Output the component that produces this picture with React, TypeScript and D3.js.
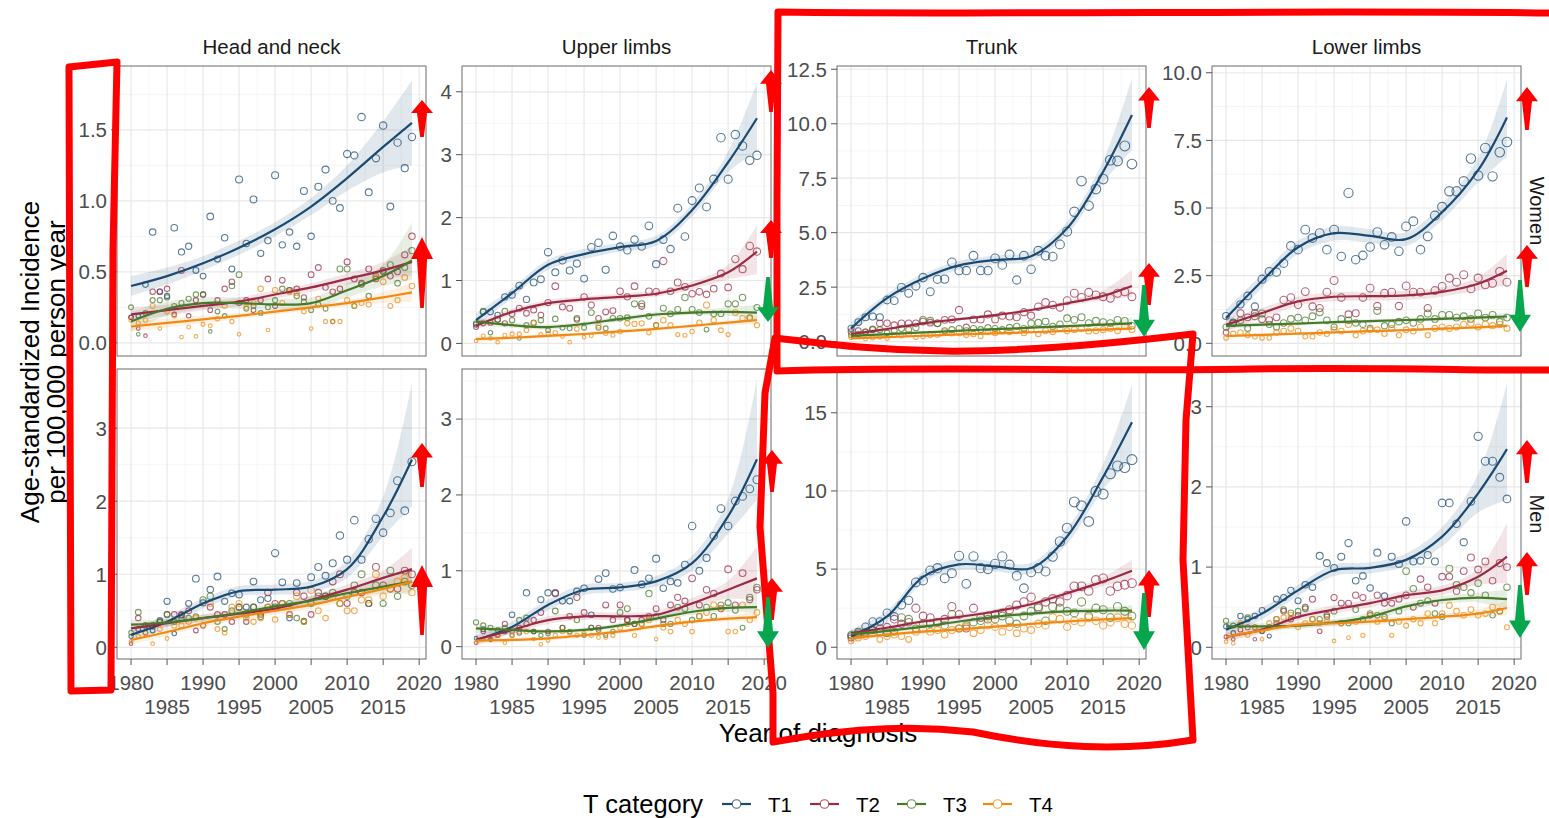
import React from 'react';
import * as d3 from 'd3';

// year axis and smoother knots
const years = [1980, 1981, 1982, 1983, 1984, 1985, 1986, 1987, 1988, 1989, 1990, 1991, 1992, 1993, 1994, 1995, 1996, 1997, 1998, 1999,
  2000, 2001, 2002, 2003, 2004, 2005, 2006, 2007, 2008, 2009, 2010, 2011, 2012, 2013, 2014, 2015, 2016, 2017, 2018, 2019];
const knotYears = [1980, 1985, 1990, 1995, 2000, 2005, 2010, 2015, 2019];

const categories = ['T1', 'T2', 'T3', 'T4'];
const catColors = ['#1a4a72', '#9b2b44', '#47792a', '#f08a14'];
const sites = ['Head and neck', 'Upper limbs', 'Trunk', 'Lower limbs'];
const sexes = ['Women', 'Men'];

const xMajor = [1980, 1985, 1990, 1995, 2000, 2005, 2010, 2015, 2020];
const xMinor = [1982.5, 1987.5, 1992.5, 1997.5, 2002.5, 2007.5, 2012.5, 2017.5];
const xLabels1 = [1980, 1990, 2000, 2010, 2020];
const xLabels2 = [1985, 1995, 2005, 2015];

// ---------- Women, head and neck ----------
const wHeadT1 = [0.18, 0.19, 0.41, 0.78, 0.36, 0.33, 0.81, 0.64, 0.68, 0.51, 0.47, 0.89, 0.59, 0.74, 0.52, 1.15, 0.70, 1.01, 0.63, 0.72,
  1.18, 0.69, 0.78, 0.68, 1.07, 0.75, 1.10, 1.22, 1.00, 0.95, 1.33, 1.32, 1.59, 1.06, 1.30, 1.53, 0.96, 1.41, 1.23, 1.45];
const wHeadT2 = [0.18, 0.10, 0.05, 0.36, 0.36, 0.38, 0.20, 0.51, 0.19, 0.30, 0.34, 0.23, 0.30, 0.38, 0.43, 0.28, 0.30, 0.23, 0.30, 0.45,
  0.26, 0.44, 0.37, 0.38, 0.32, 0.48, 0.53, 0.39, 0.36, 0.38, 0.57, 0.45, 0.42, 0.52, 0.45, 0.51, 0.47, 0.50, 0.62, 0.75];
const wHeadT3 = [0.25, 0.06, 0.21, 0.30, 0.30, 0.32, 0.26, 0.28, 0.31, 0.34, 0.34, 0.08, 0.22, 0.19, 0.40, 0.48, 0.24, 0.26, 0.21, 0.25,
  0.30, 0.38, 0.37, 0.33, 0.29, 0.23, 0.27, 0.24, 0.15, 0.52, 0.52, 0.26, 0.41, 0.33, 0.47, 0.50, 0.55, 0.42, 0.53, 0.65];
const wHeadT4 = [0.16, 0.14, 0.16, 0.26, 0.10, 0.22, 0.19, 0.04, 0.11, 0.045, 0.13, 0.12, 0.17, 0.26, 0.15, 0.06, 0.25, 0.28, 0.38, 0.09,
  0.37, 0.28, 0.36, 0.35, 0.22, 0.10, 0.31, 0.15, 0.15, 0.15, 0.30, 0.26, 0.28, 0.27, 0.46, 0.43, 0.26, 0.30, 0.46, 0.40];
const wHeadT1Fit = [0.40, 0.47, 0.56, 0.67, 0.80, 0.96, 1.16, 1.38, 1.55];
const wHeadT1Lo = [0.33, 0.41, 0.51, 0.62, 0.75, 0.90, 1.07, 1.20, 1.25];
const wHeadT1Hi = [0.47, 0.53, 0.61, 0.72, 0.85, 1.02, 1.25, 1.56, 1.85];
const wHeadT2Fit = [0.20, 0.23, 0.26, 0.29, 0.34, 0.39, 0.45, 0.51, 0.57];
const wHeadT2Lo = [0.15, 0.19, 0.23, 0.26, 0.31, 0.36, 0.41, 0.45, 0.47];
const wHeadT2Hi = [0.25, 0.27, 0.29, 0.32, 0.37, 0.42, 0.49, 0.57, 0.68];
const wHeadT3Fit = [0.15, 0.24, 0.28, 0.28, 0.27, 0.28, 0.37, 0.47, 0.58];
const wHeadT3Lo = [0.08, 0.19, 0.24, 0.24, 0.23, 0.24, 0.32, 0.40, 0.44];
const wHeadT3Hi = [0.22, 0.29, 0.32, 0.32, 0.31, 0.32, 0.42, 0.55, 0.85];
const wHeadT4Fit = [0.115, 0.14, 0.165, 0.19, 0.22, 0.25, 0.28, 0.32, 0.355];
const wHeadT4Lo = [0.08, 0.11, 0.14, 0.17, 0.20, 0.23, 0.26, 0.28, 0.29];
const wHeadT4Hi = [0.15, 0.17, 0.19, 0.21, 0.24, 0.27, 0.30, 0.36, 0.42];

// ---------- Women, upper limbs ----------
const wUpperT1 = [0.30, 0.50, 0.50, 0.45, 0.74, 0.77, 0.92, 0.70, 0.97, 1.02, 1.45, 1.13, 1.32, 1.16, 1.27, 1.03, 1.53, 1.60, 1.17, 1.71,
  1.54, 1.48, 1.65, 1.54, 1.87, 1.26, 1.65, 1.50, 2.15, 1.70, 2.27, 2.47, 2.17, 2.61, 3.27, 2.61, 3.32, 3.14, 2.91, 2.99];
const wUpperT2 = [0.26, 0.32, 0.33, 0.38, 0.32, 0.47, 0.56, 0.48, 0.53, 0.45, 0.65, 0.91, 0.58, 0.56, 0.38, 0.74, 0.61, 0.40, 0.50, 0.52,
  0.83, 0.74, 0.91, 0.59, 0.83, 0.82, 1.31, 0.83, 0.97, 0.90, 0.79, 0.82, 0.78, 0.87, 1.11, 0.89, 1.34, 1.18, 1.55, 1.46];
const wUpperT3 = [0.32, 0.51, 0.17, 0.38, 0.51, 0.37, 0.08, 0.29, 0.33, 0.37, 0.21, 0.39, 0.25, 0.24, 0.40, 0.25, 0.49, 0.25, 0.24, 0.40,
  0.40, 0.41, 0.63, 0.63, 0.43, 0.29, 0.56, 0.47, 0.54, 0.73, 0.54, 0.49, 0.22, 0.47, 0.47, 0.63, 0.63, 0.73, 0.41, 0.57];
const wUpperT4 = [0.04, 0.12, 0.08, 0.02, 0.13, 0.15, 0.15, 0.21, 0.32, 0.14, 0.16, 0.17, 0.11, 0.02, 0.23, 0.10, 0.12, 0.28, 0.16, 0.13,
  0.19, 0.32, 0.31, 0.32, 0.17, 0.29, 0.37, 0.29, 0.14, 0.13, 0.19, 0.33, 0.61, 0.37, 0.21, 0.14, 0.49, 0.40, 0.40, 0.29];
const wUpperT1Fit = [0.37, 0.80, 1.25, 1.42, 1.53, 1.63, 2.12, 2.88, 3.58];
const wUpperT1Lo = [0.27, 0.72, 1.17, 1.34, 1.46, 1.55, 2.02, 2.72, 3.05];
const wUpperT1Hi = [0.47, 0.88, 1.33, 1.50, 1.60, 1.71, 2.22, 3.05, 4.15];
const wUpperT2Fit = [0.28, 0.50, 0.64, 0.70, 0.74, 0.79, 0.92, 1.13, 1.46];
const wUpperT2Lo = [0.22, 0.45, 0.59, 0.65, 0.69, 0.74, 0.86, 1.02, 1.10];
const wUpperT2Hi = [0.34, 0.55, 0.69, 0.75, 0.79, 0.84, 0.98, 1.25, 1.88];
const wUpperT3Fit = [0.35, 0.29, 0.26, 0.31, 0.39, 0.46, 0.49, 0.50, 0.49];
const wUpperT3Lo = [0.29, 0.25, 0.22, 0.27, 0.35, 0.42, 0.45, 0.44, 0.38];
const wUpperT3Hi = [0.41, 0.33, 0.30, 0.35, 0.43, 0.50, 0.53, 0.57, 0.62];
const wUpperT4Fit = [0.07, 0.09, 0.12, 0.15, 0.19, 0.23, 0.28, 0.33, 0.37];
const wUpperT4Lo = [0.03, 0.06, 0.09, 0.12, 0.16, 0.20, 0.25, 0.29, 0.30];
const wUpperT4Hi = [0.11, 0.12, 0.15, 0.18, 0.22, 0.26, 0.31, 0.37, 0.44];

// ---------- Women, trunk ----------
const wTrunkT1 = [0.61, 0.90, 1.12, 1.15, 1.12, 1.91, 1.88, 2.48, 2.22, 2.55, 2.94, 2.29, 2.86, 2.87, 3.64, 3.26, 3.26, 3.94, 3.26, 3.26,
  3.82, 3.52, 4.00, 2.83, 3.94, 3.32, 4.17, 3.94, 3.90, 4.46, 5.05, 5.96, 7.37, 6.24, 7.00, 7.46, 8.33, 8.29, 8.98, 8.15];
const wTrunkT2 = [0.46, 0.50, 0.45, 0.55, 0.84, 0.84, 0.76, 0.84, 0.84, 0.84, 0.92, 0.87, 0.84, 1.00, 1.02, 1.45, 0.66, 1.02, 1.02, 1.25,
  1.02, 1.19, 1.15, 1.12, 1.35, 1.19, 1.60, 1.80, 1.68, 1.57, 1.88, 2.22, 2.03, 2.26, 2.14, 2.06, 1.99, 2.22, 2.29, 2.06];
const wTrunkT3 = [0.30, 0.35, 0.45, 0.58, 0.55, 0.40, 0.50, 0.60, 0.55, 0.65, 1.00, 0.96, 0.84, 0.50, 0.55, 0.60, 0.50, 0.60, 0.55, 0.64,
  0.60, 0.55, 0.65, 0.70, 0.60, 0.84, 0.87, 0.92, 0.70, 0.80, 1.07, 1.00, 1.12, 0.85, 0.96, 0.90, 0.85, 1.00, 0.95, 0.73];
const wTrunkT4 = [0.20, 0.25, 0.12, 0.18, 0.22, 0.15, 0.30, 0.28, 0.35, 0.20, 0.25, 0.30, 0.32, 0.45, 0.38, 0.40, 0.30, 0.35, 0.25, 0.45,
  0.40, 0.48, 0.45, 0.50, 0.40, 0.55, 0.35, 0.50, 0.45, 0.60, 0.50, 0.55, 0.60, 0.48, 0.50, 0.55, 0.60, 0.50, 0.70, 0.55];
const wTrunkT1Fit = [0.61, 2.00, 2.90, 3.50, 3.75, 3.92, 5.20, 7.80, 10.4];
const wTrunkT1Lo = [0.30, 1.80, 2.70, 3.30, 3.55, 3.70, 4.90, 7.30, 8.80];
const wTrunkT1Hi = [0.90, 2.20, 3.10, 3.70, 3.95, 4.15, 5.50, 8.30, 12.1];
const wTrunkT2Fit = [0.35, 0.58, 0.84, 1.03, 1.22, 1.45, 1.76, 2.10, 2.55];
const wTrunkT2Lo = [0.25, 0.50, 0.76, 0.96, 1.15, 1.37, 1.65, 1.90, 2.05];
const wTrunkT2Hi = [0.45, 0.66, 0.92, 1.10, 1.29, 1.53, 1.88, 2.35, 3.30];
const wTrunkT3Fit = [0.26, 0.34, 0.42, 0.50, 0.57, 0.64, 0.71, 0.78, 0.84];
const wTrunkT3Lo = [0.18, 0.28, 0.37, 0.45, 0.52, 0.59, 0.65, 0.68, 0.65];
const wTrunkT3Hi = [0.34, 0.40, 0.47, 0.55, 0.62, 0.69, 0.77, 0.88, 1.10];
const wTrunkT4Fit = [0.15, 0.21, 0.27, 0.33, 0.38, 0.43, 0.49, 0.55, 0.60];
const wTrunkT4Lo = [0.10, 0.17, 0.23, 0.29, 0.34, 0.39, 0.44, 0.49, 0.50];
const wTrunkT4Hi = [0.20, 0.25, 0.31, 0.37, 0.42, 0.47, 0.54, 0.61, 0.70];

// ---------- Women, lower limbs ----------
const wLowerT1 = [1.01, 0.78, 1.44, 1.75, 1.36, 2.37, 2.65, 2.63, 2.96, 3.60, 3.46, 4.20, 3.89, 4.07, 3.46, 4.20, 3.21, 5.56, 3.09, 3.25,
  3.56, 4.11, 3.64, 3.93, 3.40, 4.32, 4.51, 3.46, 3.95, 4.72, 5.04, 5.62, 5.62, 5.99, 6.83, 6.20, 7.22, 6.17, 7.06, 7.44];
const wLowerT2 = [0.40, 0.74, 1.11, 0.96, 1.11, 0.89, 0.86, 0.96, 1.60, 1.69, 1.42, 1.91, 1.36, 1.30, 1.89, 2.32, 1.69, 1.07, 1.11, 1.69,
  2.04, 1.38, 1.85, 1.89, 1.38, 2.12, 1.89, 1.89, 1.30, 1.95, 2.10, 2.41, 2.26, 2.53, 2.01, 2.41, 2.16, 2.22, 2.65, 2.26];
const wLowerT3 = [0.60, 0.75, 0.85, 0.55, 1.00, 1.10, 0.70, 0.60, 0.75, 0.90, 0.95, 0.85, 1.00, 1.15, 0.85, 0.60, 0.90, 0.85, 0.75, 0.70,
  0.55, 1.20, 0.65, 0.70, 0.80, 0.85, 0.75, 0.90, 1.10, 0.90, 1.05, 1.05, 0.95, 1.00, 0.90, 1.10, 0.95, 1.05, 0.80, 0.95];
const wLowerT4 = [0.20, 0.35, 0.40, 0.30, 0.25, 0.20, 0.20, 0.40, 0.45, 0.55, 0.45, 0.25, 0.25, 0.40, 0.35, 0.50, 0.45, 0.70, 0.30, 0.45,
  0.50, 0.50, 0.35, 0.55, 0.30, 0.50, 0.45, 0.60, 0.30, 0.55, 0.60, 0.55, 0.60, 0.70, 0.75, 0.60, 0.70, 0.65, 0.70, 0.55];
const wLowerT1Fit = [0.93, 2.30, 3.55, 4.07, 3.97, 3.85, 4.85, 6.40, 8.35];
const wLowerT1Lo = [0.60, 2.05, 3.30, 3.80, 3.72, 3.60, 4.55, 5.95, 6.90];
const wLowerT1Hi = [1.25, 2.55, 3.80, 4.32, 4.22, 4.10, 5.15, 6.85, 9.75];
const wLowerT2Fit = [0.68, 1.12, 1.55, 1.72, 1.74, 1.77, 1.90, 2.20, 2.68];
const wLowerT2Lo = [0.45, 0.93, 1.38, 1.55, 1.58, 1.60, 1.72, 1.95, 2.15];
const wLowerT2Hi = [0.90, 1.31, 1.72, 1.89, 1.90, 1.94, 2.08, 2.45, 3.30];
const wLowerT3Fit = [0.64, 0.69, 0.73, 0.78, 0.82, 0.86, 0.90, 0.95, 0.99];
const wLowerT3Lo = [0.53, 0.61, 0.66, 0.71, 0.75, 0.79, 0.83, 0.86, 0.85];
const wLowerT3Hi = [0.75, 0.77, 0.80, 0.85, 0.89, 0.93, 0.97, 1.04, 1.13];
const wLowerT4Fit = [0.27, 0.31, 0.36, 0.40, 0.45, 0.49, 0.54, 0.59, 0.64];
const wLowerT4Lo = [0.20, 0.26, 0.31, 0.36, 0.41, 0.45, 0.49, 0.53, 0.55];
const wLowerT4Hi = [0.34, 0.36, 0.41, 0.44, 0.49, 0.53, 0.59, 0.65, 0.73];

// ---------- Men, head and neck ----------
const mHeadT1 = [0.15, 0.25, 0.20, 0.23, 0.37, 0.63, 0.19, 0.44, 0.60, 0.94, 0.61, 0.79, 0.97, 0.63, 0.74, 0.72, 0.55, 0.90, 0.65, 0.67,
  1.29, 0.89, 0.40, 0.88, 0.36, 0.96, 1.10, 0.98, 1.15, 1.53, 1.20, 1.74, 1.20, 1.48, 1.76, 1.57, 1.84, 2.28, 1.87, 2.54];
const mHeadT2 = [0.05, 0.40, 0.30, 0.30, 0.35, 0.45, 0.45, 0.45, 0.50, 0.23, 0.30, 0.55, 0.45, 0.45, 0.35, 0.55, 0.35, 0.55, 0.45, 0.75,
  0.60, 0.60, 0.45, 0.75, 0.70, 0.45, 0.75, 0.70, 0.90, 1.00, 0.60, 0.75, 0.75, 0.60, 1.10, 0.85, 0.80, 0.80, 1.05, 1.00];
const mHeadT3 = [0.20, 0.48, 0.30, 0.28, 0.35, 0.45, 0.35, 0.40, 0.40, 0.42, 0.65, 0.70, 0.35, 0.25, 0.50, 0.55, 0.45, 0.55, 0.42, 0.55,
  0.55, 0.60, 0.60, 0.40, 0.35, 0.60, 0.70, 0.70, 0.75, 0.60, 0.70, 0.85, 1.00, 0.60, 0.85, 0.60, 1.05, 0.70, 0.90, 0.85];
const mHeadT4 = [0.08, 0.15, 0.20, 0.05, 0.25, 0.12, 0.30, 0.30, 0.35, 0.40, 0.30, 0.60, 0.25, 0.20, 0.55, 0.60, 0.40, 0.35, 0.40, 0.55,
  0.38, 0.60, 0.45, 0.70, 0.35, 0.78, 0.50, 0.40, 0.70, 0.60, 0.50, 0.50, 0.65, 0.65, 1.00, 0.70, 0.80, 0.90, 0.95, 0.75];
const mHeadT1Fit = [0.17, 0.35, 0.60, 0.77, 0.79, 0.83, 1.07, 1.79, 2.57];
const mHeadT1Lo = [0.07, 0.27, 0.53, 0.70, 0.72, 0.75, 0.95, 1.52, 1.93];
const mHeadT1Hi = [0.27, 0.43, 0.67, 0.84, 0.86, 0.91, 1.19, 2.06, 3.62];
const mHeadT2Fit = [0.26, 0.33, 0.40, 0.46, 0.53, 0.65, 0.79, 0.95, 1.07];
const mHeadT2Lo = [0.20, 0.28, 0.35, 0.41, 0.48, 0.59, 0.72, 0.85, 0.82];
const mHeadT2Hi = [0.32, 0.38, 0.45, 0.51, 0.58, 0.71, 0.86, 1.05, 1.36];
const mHeadT3Fit = [0.31, 0.34, 0.40, 0.47, 0.56, 0.64, 0.74, 0.83, 0.90];
const mHeadT3Lo = [0.25, 0.29, 0.35, 0.42, 0.51, 0.58, 0.67, 0.74, 0.72];
const mHeadT3Hi = [0.37, 0.39, 0.45, 0.52, 0.61, 0.70, 0.81, 0.92, 1.08];
const mHeadT4Fit = [0.10, 0.21, 0.33, 0.42, 0.50, 0.58, 0.69, 0.80, 0.90];
const mHeadT4Lo = [0.04, 0.16, 0.28, 0.37, 0.45, 0.53, 0.63, 0.72, 0.76];
const mHeadT4Hi = [0.16, 0.26, 0.38, 0.47, 0.55, 0.63, 0.75, 0.88, 1.04];

// ---------- Men, upper limbs ----------
const mUpperT1 = [0.11, 0.23, 0.09, 0.15, 0.20, 0.42, 0.18, 0.71, 0.20, 0.62, 0.71, 0.71, 0.60, 0.60, 0.73, 0.77, 0.42, 0.89, 0.97, 0.76,
  0.78, 0.35, 1.01, 0.82, 0.90, 1.16, 0.77, 0.86, 0.84, 1.08, 1.59, 1.00, 1.17, 1.46, 1.82, 1.59, 1.92, 1.98, 2.08, 2.20];
const mUpperT2 = [0.05, 0.20, 0.10, 0.15, 0.30, 0.20, 0.25, 0.30, 0.35, 0.45, 0.20, 0.70, 0.25, 0.40, 0.65, 0.45, 0.25, 0.25, 0.55, 0.35,
  0.55, 0.35, 0.30, 0.35, 0.40, 0.50, 0.35, 0.55, 0.65, 0.60, 0.90, 0.55, 0.75, 0.70, 0.50, 1.02, 0.55, 0.97, 0.62, 0.75];
const mUpperT3 = [0.32, 0.28, 0.25, 0.22, 0.25, 0.15, 0.35, 0.38, 0.20, 0.15, 0.17, 0.47, 0.25, 0.20, 0.35, 0.15, 0.25, 0.22, 0.15, 0.20,
  0.45, 0.50, 0.30, 0.30, 0.70, 0.40, 0.30, 0.30, 0.52, 0.50, 0.35, 0.40, 0.52, 0.40, 0.55, 0.58, 0.48, 0.25, 0.65, 0.78];
const mUpperT4 = [0.05, 0.10, 0.12, 0.15, 0.05, 0.15, 0.20, 0.20, 0.10, 0.03, 0.08, 0.15, 0.20, 0.18, 0.15, 0.17, 0.15, 0.12, 0.12, 0.15,
  0.25, 0.30, 0.15, 0.30, 0.35, 0.10, 0.25, 0.20, 0.35, 0.30, 0.20, 0.40, 0.45, 0.55, 0.50, 0.20, 0.20, 0.55, 0.35, 0.45];
const mUpperT1Fit = [0.09, 0.26, 0.55, 0.75, 0.78, 0.86, 1.10, 1.72, 2.47];
const mUpperT1Lo = [0.02, 0.19, 0.48, 0.68, 0.72, 0.79, 1.00, 1.49, 1.94];
const mUpperT1Hi = [0.16, 0.33, 0.62, 0.82, 0.84, 0.93, 1.20, 1.95, 3.53];
const mUpperT2Fit = [0.09, 0.22, 0.35, 0.40, 0.40, 0.42, 0.57, 0.75, 0.90];
const mUpperT2Lo = [0.04, 0.17, 0.30, 0.35, 0.35, 0.37, 0.50, 0.63, 0.60];
const mUpperT2Hi = [0.14, 0.27, 0.40, 0.45, 0.45, 0.47, 0.64, 0.87, 1.32];
const mUpperT3Fit = [0.24, 0.22, 0.20, 0.22, 0.28, 0.37, 0.46, 0.51, 0.52];
const mUpperT3Lo = [0.18, 0.18, 0.17, 0.19, 0.25, 0.33, 0.42, 0.46, 0.44];
const mUpperT3Hi = [0.30, 0.26, 0.23, 0.25, 0.31, 0.41, 0.50, 0.56, 0.60];
const mUpperT4Fit = [0.08, 0.09, 0.11, 0.15, 0.20, 0.27, 0.33, 0.37, 0.39];
const mUpperT4Lo = [0.04, 0.06, 0.08, 0.12, 0.17, 0.24, 0.30, 0.33, 0.32];
const mUpperT4Hi = [0.12, 0.12, 0.14, 0.18, 0.23, 0.30, 0.36, 0.41, 0.46];

// ---------- Men, trunk ----------
const mTrunkT1 = [0.73, 1.00, 1.32, 1.65, 1.65, 2.20, 1.97, 2.70, 3.00, 4.15, 4.27, 4.91, 5.06, 4.42, 4.74, 5.85, 4.06, 5.81, 5.06, 5.00,
  5.34, 5.81, 5.28, 4.57, 3.78, 4.80, 5.06, 4.85, 5.80, 6.77, 7.63, 9.30, 9.05, 8.05, 9.97, 9.80, 11.1, 11.6, 11.5, 12.0];
const mTrunkT2 = [0.6, 0.8, 0.9, 1.1, 1.2, 1.3, 1.8, 1.5, 1.6, 2.5, 2.0, 1.9, 1.6, 1.8, 2.6, 2.1, 1.2, 2.5, 1.9, 2.0,
  2.1, 2.2, 2.4, 2.7, 2.9, 3.2, 2.6, 2.9, 3.1, 2.9, 3.3, 3.9, 3.9, 3.6, 4.3, 4.4, 3.6, 3.9, 4.0, 4.1];
const mTrunkT3 = [0.8, 0.9, 1.0, 1.1, 1.0, 0.9, 1.0, 1.9, 1.8, 1.2, 1.5, 1.5, 1.6, 1.4, 2.1, 1.2, 1.4, 1.6, 1.7, 1.8,
  1.8, 2.0, 1.7, 1.5, 2.0, 2.3, 2.5, 1.7, 2.6, 2.5, 2.3, 2.2, 2.9, 2.0, 2.5, 2.4, 1.9, 2.6, 2.3, 2.0];
const mTrunkT4 = [0.4, 0.6, 0.7, 0.9, 0.5, 0.7, 0.8, 0.7, 0.5, 1.0, 1.2, 1.0, 1.1, 0.8, 1.1, 1.2, 1.3, 0.9, 1.1, 1.4,
  1.3, 1.0, 1.3, 0.9, 1.2, 1.1, 1.5, 1.4, 1.9, 1.8, 1.3, 1.7, 1.6, 1.9, 1.7, 1.4, 1.6, 1.9, 1.5, 1.4];
const mTrunkT1Fit = [0.68, 1.97, 4.50, 5.30, 5.17, 5.06, 7.09, 10.9, 14.4];
const mTrunkT1Lo = [0.20, 1.60, 4.15, 4.95, 4.85, 4.72, 6.60, 10.1, 12.0];
const mTrunkT1Hi = [1.16, 2.34, 4.85, 5.65, 5.50, 5.40, 7.60, 11.7, 16.8];
const mTrunkT2Fit = [0.90, 1.25, 1.65, 1.95, 2.29, 2.75, 3.46, 4.20, 4.90];
const mTrunkT2Lo = [0.70, 1.10, 1.50, 1.80, 2.15, 2.60, 3.25, 3.90, 4.30];
const mTrunkT2Hi = [1.10, 1.40, 1.80, 2.10, 2.45, 2.90, 3.67, 4.50, 5.60];
const mTrunkT3Fit = [0.85, 1.05, 1.32, 1.65, 1.95, 2.15, 2.30, 2.35, 2.35];
const mTrunkT3Lo = [0.65, 0.90, 1.18, 1.50, 1.80, 2.00, 2.13, 2.15, 2.00];
const mTrunkT3Hi = [1.05, 1.20, 1.46, 1.80, 2.10, 2.30, 2.47, 2.55, 2.70];
const mTrunkT4Fit = [0.58, 0.80, 1.00, 1.15, 1.32, 1.50, 1.65, 1.78, 1.86];
const mTrunkT4Lo = [0.42, 0.67, 0.88, 1.03, 1.20, 1.37, 1.50, 1.60, 1.60];
const mTrunkT4Hi = [0.74, 0.93, 1.12, 1.27, 1.44, 1.63, 1.80, 1.96, 2.12];

// ---------- Men, lower limbs ----------
const mLowerT1 = [0.26, 0.18, 0.39, 0.35, 0.39, 0.46, 0.14, 0.60, 0.62, 0.71, 0.58, 0.78, 0.75, 1.14, 1.05, 0.99, 1.13, 1.30, 0.83, 0.89,
  0.74, 1.18, 0.64, 1.13, 1.04, 1.57, 1.07, 1.08, 1.15, 1.07, 1.80, 1.80, 1.54, 1.31, 1.82, 2.63, 2.32, 2.32, 2.12, 1.85];
const mLowerT2 = [0.13, 0.10, 0.22, 0.25, 0.10, 0.20, 0.25, 0.35, 0.45, 0.35, 0.40, 0.50, 0.60, 0.20, 0.40, 0.62, 0.55, 0.55, 0.65, 0.62,
  0.40, 0.65, 0.55, 0.55, 0.60, 0.65, 0.50, 0.85, 0.75, 0.55, 0.88, 0.88, 0.70, 0.95, 1.12, 0.97, 1.07, 0.83, 1.05, 1.00];
const mLowerT3 = [0.33, 0.27, 0.28, 0.37, 0.25, 0.20, 0.25, 0.30, 0.47, 0.43, 0.45, 0.48, 0.35, 0.35, 0.38, 0.45, 0.30, 0.30, 0.47, 0.35,
  0.42, 0.40, 0.38, 0.30, 0.45, 0.95, 0.73, 0.55, 0.58, 0.42, 0.38, 0.98, 0.78, 0.75, 0.68, 0.80, 0.65, 0.40, 0.45, 0.75];
const mLowerT4 = [0.07, 0.05, 0.30, 0.15, 0.25, 0.10, 0.30, 0.35, 0.37, 0.40, 0.25, 0.30, 0.35, 0.30, 0.35, 0.08, 0.30, 0.12, 0.32, 0.15,
  0.40, 0.32, 0.35, 0.15, 0.32, 0.27, 0.35, 0.30, 0.42, 0.30, 0.42, 0.52, 0.45, 0.40, 0.47, 0.40, 0.42, 0.50, 0.45, 0.25];
const mLowerT1Fit = [0.22, 0.42, 0.71, 0.96, 0.99, 1.09, 1.38, 1.92, 2.47];
const mLowerT1Lo = [0.14, 0.35, 0.64, 0.89, 0.92, 1.01, 1.26, 1.68, 1.84];
const mLowerT1Hi = [0.30, 0.49, 0.78, 1.03, 1.06, 1.17, 1.50, 2.16, 3.29];
const mLowerT2Fit = [0.13, 0.22, 0.38, 0.47, 0.55, 0.65, 0.71, 0.88, 1.13];
const mLowerT2Lo = [0.08, 0.18, 0.33, 0.42, 0.50, 0.59, 0.65, 0.78, 0.80];
const mLowerT2Hi = [0.18, 0.26, 0.43, 0.52, 0.60, 0.71, 0.77, 0.98, 1.55];
const mLowerT3Fit = [0.26, 0.26, 0.27, 0.31, 0.38, 0.51, 0.59, 0.62, 0.60];
const mLowerT3Lo = [0.20, 0.22, 0.23, 0.27, 0.33, 0.46, 0.54, 0.56, 0.48];
const mLowerT3Hi = [0.32, 0.30, 0.31, 0.35, 0.43, 0.56, 0.64, 0.68, 0.72];
const mLowerT4Fit = [0.13, 0.21, 0.28, 0.30, 0.32, 0.35, 0.38, 0.42, 0.49];
const mLowerT4Lo = [0.07, 0.17, 0.24, 0.26, 0.28, 0.31, 0.34, 0.37, 0.40];
const mLowerT4Hi = [0.19, 0.25, 0.32, 0.34, 0.36, 0.39, 0.42, 0.47, 0.58];

// panel table: free y scales per facet
const panels = [
  { row: 0, col: 0, yLim: [-0.093, 1.95], yTicks: [0, 0.5, 1, 1.5], fmt: '.1f',
    series: [[wHeadT1, wHeadT1Fit, wHeadT1Lo, wHeadT1Hi], [wHeadT2, wHeadT2Fit, wHeadT2Lo, wHeadT2Hi], [wHeadT3, wHeadT3Fit, wHeadT3Lo, wHeadT3Hi], [wHeadT4, wHeadT4Fit, wHeadT4Lo, wHeadT4Hi]] },
  { row: 0, col: 1, yLim: [-0.2, 4.41], yTicks: [0, 1, 2, 3, 4], fmt: 'd',
    series: [[wUpperT1, wUpperT1Fit, wUpperT1Lo, wUpperT1Hi], [wUpperT2, wUpperT2Fit, wUpperT2Lo, wUpperT2Hi], [wUpperT3, wUpperT3Fit, wUpperT3Lo, wUpperT3Hi], [wUpperT4, wUpperT4Fit, wUpperT4Lo, wUpperT4Hi]] },
  { row: 0, col: 2, yLim: [-0.66, 12.65], yTicks: [0, 2.5, 5, 7.5, 10, 12.5], fmt: '.1f',
    series: [[wTrunkT1, wTrunkT1Fit, wTrunkT1Lo, wTrunkT1Hi], [wTrunkT2, wTrunkT2Fit, wTrunkT2Lo, wTrunkT2Hi], [wTrunkT3, wTrunkT3Fit, wTrunkT3Lo, wTrunkT3Hi], [wTrunkT4, wTrunkT4Fit, wTrunkT4Lo, wTrunkT4Hi]] },
  { row: 0, col: 3, yLim: [-0.47, 10.25], yTicks: [0, 2.5, 5, 7.5, 10], fmt: '.1f',
    series: [[wLowerT1, wLowerT1Fit, wLowerT1Lo, wLowerT1Hi], [wLowerT2, wLowerT2Fit, wLowerT2Lo, wLowerT2Hi], [wLowerT3, wLowerT3Fit, wLowerT3Lo, wLowerT3Hi], [wLowerT4, wLowerT4Fit, wLowerT4Lo, wLowerT4Hi]] },
  { row: 1, col: 0, yLim: [-0.16, 3.81], yTicks: [0, 1, 2, 3], fmt: 'd',
    series: [[mHeadT1, mHeadT1Fit, mHeadT1Lo, mHeadT1Hi], [mHeadT2, mHeadT2Fit, mHeadT2Lo, mHeadT2Hi], [mHeadT3, mHeadT3Fit, mHeadT3Lo, mHeadT3Hi], [mHeadT4, mHeadT4Fit, mHeadT4Lo, mHeadT4Hi]] },
  { row: 1, col: 1, yLim: [-0.163, 3.66], yTicks: [0, 1, 2, 3], fmt: 'd',
    series: [[mUpperT1, mUpperT1Fit, mUpperT1Lo, mUpperT1Hi], [mUpperT2, mUpperT2Fit, mUpperT2Lo, mUpperT2Hi], [mUpperT3, mUpperT3Fit, mUpperT3Lo, mUpperT3Hi], [mUpperT4, mUpperT4Fit, mUpperT4Lo, mUpperT4Hi]] },
  { row: 1, col: 2, yLim: [-0.75, 17.8], yTicks: [0, 5, 10, 15], fmt: 'd',
    series: [[mTrunkT1, mTrunkT1Fit, mTrunkT1Lo, mTrunkT1Hi], [mTrunkT2, mTrunkT2Fit, mTrunkT2Lo, mTrunkT2Hi], [mTrunkT3, mTrunkT3Fit, mTrunkT3Lo, mTrunkT3Hi], [mTrunkT4, mTrunkT4Fit, mTrunkT4Lo, mTrunkT4Hi]] },
  { row: 1, col: 3, yLim: [-0.146, 3.47], yTicks: [0, 1, 2, 3], fmt: 'd',
    series: [[mLowerT1, mLowerT1Fit, mLowerT1Lo, mLowerT1Hi], [mLowerT2, mLowerT2Fit, mLowerT2Lo, mLowerT2Hi], [mLowerT3, mLowerT3Fit, mLowerT3Lo, mLowerT3Hi], [mLowerT4, mLowerT4Fit, mLowerT4Lo, mLowerT4Hi]] },
];

// hand-drawn overlay (pixel positions)
const upArrowsRed = [
  [422, 100, 137], [422, 237, 308], [771, 70, 112], [771, 220, 258], [1149, 87, 128], [1149, 263, 305],
  [1527, 87, 130], [1527, 245, 287], [422, 443, 487], [422, 565, 635], [772, 450, 492], [772, 578, 620],
  [1149, 570, 617], [1527, 440, 483], [1527, 552, 595],
];
const downArrowsGreen = [
  [768, 277, 322], [1144, 285, 337], [1520, 280, 332], [768, 597, 648], [1144, 593, 650], [1520, 585, 638],
];
const redStrokes = [
  'M69,67 L117,62 L113,250 L111,690 L71,691 L70,400 Z',
  'M1549,13 C1300,10 1000,15 778,12 L777,200 L777,371 C950,366 1100,372 1250,369 C1400,367 1480,371 1549,370',
  'M775,338 C880,350 960,362 1193,334 L1186,420 L1183,560 L1193,740 C1120,752 1050,748 973,732 C920,726 860,726 773,742 L773,693 L760,527 L765,393 Z',
];

const FONT = 'Liberation Sans, Arial, Helvetica, sans-serif';
const COL_LEFT = [117, 462, 837, 1212];
const ROW_TOP = [66, 369];
const PW = 309;
const PH = 290;
const X_DOMAIN = [1978.05, 2020.95];

const rScale = d3.scaleLog().domain([0.1, 10]).range([1.8, 5]).clamp(true);
const curve = d3.curveCatmullRom.alpha(0.5);

function arrowPath(x: number, tip: number, tail: number) {
  const dir = tip < tail ? 1 : -1;
  const len = Math.abs(tail - tip);
  const hl = Math.min(22, Math.max(13, len * 0.33));
  const hb = tip + dir * hl;
  return `M${x},${tip} L${x + 11},${hb} L${x + 5},${hb} L${x + 1.8},${tail} L${x - 1.8},${tail} L${x - 5},${hb} L${x - 11},${hb} Z`;
}

function Panel({ p, idx }: { p: any; idx: number }) {
  const left = COL_LEFT[p.col];
  const top = ROW_TOP[p.row];
  const x = d3.scaleLinear().domain(X_DOMAIN).range([left, left + PW]);
  const y = d3.scaleLinear().domain(p.yLim).range([top + PH, top]);
  const step = p.yTicks[1] - p.yTicks[0];
  const yMinor = [p.yTicks[0] - step / 2, ...p.yTicks.map((t: number) => t + step / 2)]
    .filter((t: number) => t > p.yLim[0] && t < p.yLim[1]);
  const fmt = d3.format(p.fmt);
  const line = d3.line<number>().x((_, i) => x(knotYears[i])).y(d => y(d)).curve(curve);
  const clipId = `clip-${idx}`;

  return (
    <g>
      <defs>
        <clipPath id={clipId}><rect x={left} y={top} width={PW} height={PH} /></clipPath>
      </defs>
      <rect x={left} y={top} width={PW} height={PH} fill="#fff" />
      {xMinor.map(v => <line key={'xm' + v} x1={x(v)} x2={x(v)} y1={top} y2={top + PH} stroke="#f2f2f2" strokeWidth={0.8} />)}
      {yMinor.map((v: number) => <line key={'ym' + v} x1={left} x2={left + PW} y1={y(v)} y2={y(v)} stroke="#f2f2f2" strokeWidth={0.8} />)}
      {xMajor.map(v => <line key={'xM' + v} x1={x(v)} x2={x(v)} y1={top} y2={top + PH} stroke="#e8e8e8" strokeWidth={1.2} />)}
      {p.yTicks.map((v: number) => <line key={'yM' + v} x1={left} x2={left + PW} y1={y(v)} y2={y(v)} stroke="#e8e8e8" strokeWidth={1.2} />)}

      <g clipPath={`url(#${clipId})`}>
        {p.series.map((s: number[][], si: number) => {
          const area = d3.area<number>()
            .x((_, i) => x(knotYears[i]))
            .y0((_, i) => y(s[2][i]))
            .y1((_, i) => y(s[3][i]))
            .curve(curve);
          return <path key={'rb' + si} d={area(s[1]) || ''} fill={catColors[si]} fillOpacity={0.13} />;
        })}
        {p.series.map((s: number[][], si: number) => (
          <g key={'pt' + si}>
            {s[0].map((v, i) => (
              <circle key={i} cx={x(years[i])} cy={y(v)} r={rScale(Math.max(v, 0.02))}
                fill="none" stroke={catColors[si]} strokeOpacity={0.72} strokeWidth={1.1} />
            ))}
          </g>
        ))}
        {p.series.map((s: number[][], si: number) => (
          <path key={'ln' + si} d={line(s[1]) || ''} fill="none" stroke={catColors[si]} strokeWidth={2.2} />
        ))}
      </g>
      <rect x={left} y={top} width={PW} height={PH} fill="none" stroke="#6b6b6b" strokeWidth={1} />

      {p.yTicks.map((v: number) => (
        <g key={'yt' + v}>
          <line x1={left - 6} x2={left} y1={y(v)} y2={y(v)} stroke="#555" strokeWidth={1} />
          <text x={left - 10} y={y(v)} dy="0.36em" textAnchor="end" fontSize={20.5} fill="#4d4d4d">{fmt(v)}</text>
        </g>
      ))}

      {p.row === 1 && (
        <g>
          {xMajor.map(v => <line key={'xt' + v} x1={x(v)} x2={x(v)} y1={top + PH} y2={top + PH + 6} stroke="#555" strokeWidth={1} />)}
          {xLabels1.map(v => <text key={'xl1' + v} x={x(v)} y={690} textAnchor="middle" fontSize={20.5} fill="#4d4d4d">{v}</text>)}
          {xLabels2.map(v => <text key={'xl2' + v} x={x(v)} y={714} textAnchor="middle" fontSize={20.5} fill="#4d4d4d">{v}</text>)}
        </g>
      )}
      {p.row === 0 && (
        <text x={left + PW / 2} y={54} textAnchor="middle" fontSize={20.5} fill="#1a1a1a">{sites[p.col]}</text>
      )}
      {p.col === 3 && (
        <text transform={`translate(1530,${top + PH / 2}) rotate(90)`} textAnchor="middle" fontSize={20} fill="#1a1a1a">
          {sexes[p.row]}
        </text>
      )}
    </g>
  );
}

export default function App() {
  const legendX = [722, 810, 897, 983];
  return (
    <div style={{ position: 'fixed', left: 0, top: 0 }}>
      <svg width={1549} height={818} style={{ display: 'block', background: '#fff' }} fontFamily={FONT}>
        <rect width={1549} height={818} fill="#fff" />
        {panels.map((p, i) => <Panel key={i} p={p} idx={i} />)}

        <text transform="translate(39,362) rotate(-90)" textAnchor="middle" fontSize={26} fill="#000">Age-standardized Incidence</text>
        <text transform="translate(65,362) rotate(-90)" textAnchor="middle" fontSize={26} fill="#000">per 100,000 person year</text>
        <text x={818} y={742} textAnchor="middle" fontSize={26} fill="#000">Year of diagnosis</text>

        <text x={583} y={813} fontSize={25.5} fill="#000">T category</text>
        {categories.map((c, i) => (
          <g key={c}>
            <line x1={legendX[i]} x2={legendX[i] + 29} y1={804} y2={804} stroke={catColors[i]} strokeWidth={2.2} />
            <circle cx={legendX[i] + 14.5} cy={804} r={4.3} fill="#fff" stroke={catColors[i]} strokeOpacity={0.8} strokeWidth={1.1} />
            <text x={legendX[i] + 46} y={812} fontSize={20.5} fill="#000">{c}</text>
          </g>
        ))}

        {redStrokes.map((d, i) => (
          <path key={'rs' + i} d={d} fill="none" stroke="#ff0000" strokeWidth={7} strokeLinejoin="round" strokeLinecap="round" />
        ))}
        {upArrowsRed.map((a, i) => <path key={'ua' + i} d={arrowPath(a[0], a[1], a[2])} fill="#ff0000" />)}
        {downArrowsGreen.map((a, i) => <path key={'da' + i} d={arrowPath(a[0], a[2], a[1])} fill="#06a64c" />)}
      </svg>
    </div>
  );
}
